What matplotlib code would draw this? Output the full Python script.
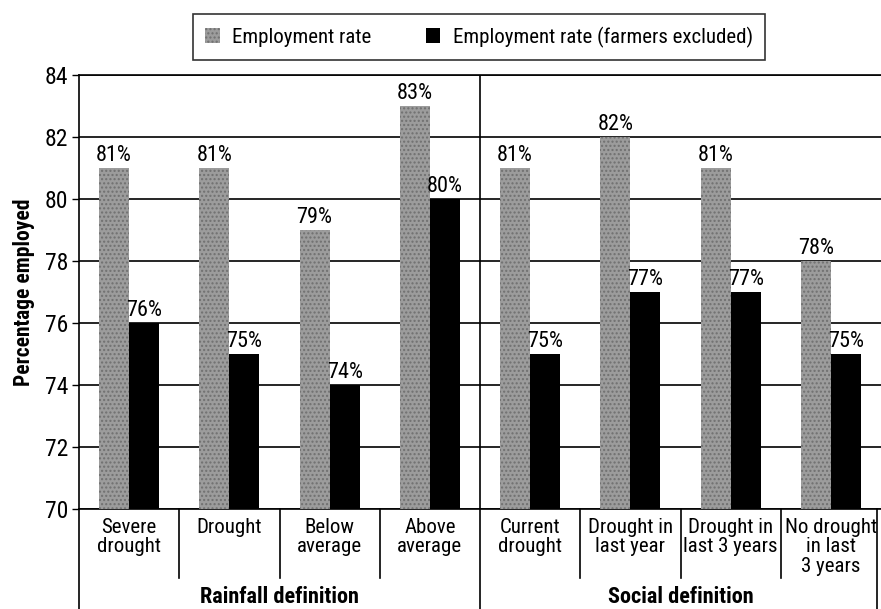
import numpy as np
import matplotlib
matplotlib.use("Agg")
import matplotlib.pyplot as plt
from matplotlib import font_manager
from matplotlib.patches import Patch

# pick a narrow font if one is there
names = set(f.name for f in font_manager.fontManager.ttflist)
font = "DejaVu Sans"
for cand in ["Roboto Condensed", "Liberation Sans Narrow", "Open Sans Condensed"]:
    if cand in names:
        font = cand
        break
plt.rcParams["font.family"] = [font, "DejaVu Sans"]

categories = ["Severe\ndrought", "Drought", "Below\naverage", "Above\naverage",
              "Current\ndrought", "Drought in\nlast year", "Drought in\nlast 3 years",
              "No drought\nin last\n3 years"]
employment = [81, 81, 79, 83, 81, 82, 81, 78]
employment_nofarm = [76, 75, 74, 80, 75, 77, 77, 75]
groups = ["Rainfall definition", "Social definition"]
series_names = ["Employment rate", "Employment rate (farmers excluded)"]

fs = 16
grey = "#9c9c9c"

fig = plt.figure(figsize=(8.81, 6.09), dpi=100)
ax = fig.add_axes([79/881, 1-509/609, 802/881, 434/609])

x = np.arange(len(categories))
w = 0.3
ax.bar(x - w/2, employment, w, color=grey, edgecolor="#707070",
       hatch="....", linewidth=0, zorder=3)
ax.bar(x + w/2, employment_nofarm, w, color="black", linewidth=0, zorder=3)

for xi, v in zip(x, employment):
    ax.text(xi - w/2, v + 0.08, f"{v}%", ha="center", va="bottom", fontsize=fs)
for xi, v in zip(x, employment_nofarm):
    ax.text(xi + w/2, v + 0.08, f"{v}%", ha="center", va="bottom", fontsize=fs)

ax.set_xlim(-0.5, 7.5)
ax.set_ylim(70, 84)
ax.set_yticks(np.arange(70, 85, 2))
ax.tick_params(axis="y", labelsize=fs + 1, length=5, width=1, pad=3)
ax.set_xticks([])
ax.yaxis.grid(True, color="black", linewidth=1.2)
ax.set_axisbelow(True)
ax.spines["right"].set_visible(False)
for s in ["left", "top", "bottom"]:
    ax.spines[s].set_linewidth(1.2)
ax.set_ylabel("Percentage employed", fontsize=fs - 0.5, fontweight="bold", labelpad=7)

tr = ax.get_xaxis_transform()
# divider between the two definitions inside the plot
ax.plot([3.5, 3.5], [0, 1], color="black", lw=1.2, transform=tr, zorder=4)

# category labels and separators below the axis
for xi, lab in zip(x, categories):
    ax.text(xi, -0.02, lab, transform=tr, ha="center", va="top",
            fontsize=fs - 1, linespacing=1.05)
for b in [0.5, 1.5, 2.5, 4.5, 5.5, 6.5]:
    ax.plot([b, b], [0, -0.16], color="black", lw=1.2, transform=tr, clip_on=False)
for b in [-0.5, 3.5, 7.46]:
    ax.plot([b, b], [0, -0.24], color="black", lw=1.2, transform=tr, clip_on=False)

ax.text(1.5, -0.203, groups[0], transform=tr, ha="center", va="center",
        fontsize=fs, fontweight="bold")
ax.text(5.5, -0.203, groups[1], transform=tr, ha="center", va="center",
        fontsize=fs, fontweight="bold")

handles = [Patch(facecolor=grey, edgecolor="#707070", hatch="....", linewidth=0),
           Patch(facecolor="black")]
leg = fig.legend(handles, series_names, loc="center", bbox_to_anchor=(479/881, 1-37/609),
                 ncol=2, fontsize=fs - 1, frameon=True, fancybox=False,
                 handlelength=0.7, handleheight=0.7, handletextpad=0.6,
                 columnspacing=2.6, borderpad=0.6, borderaxespad=0)
leg.get_frame().set_edgecolor("black")
leg.get_frame().set_linewidth(1.2)

fig.savefig("out.png", dpi=100)
